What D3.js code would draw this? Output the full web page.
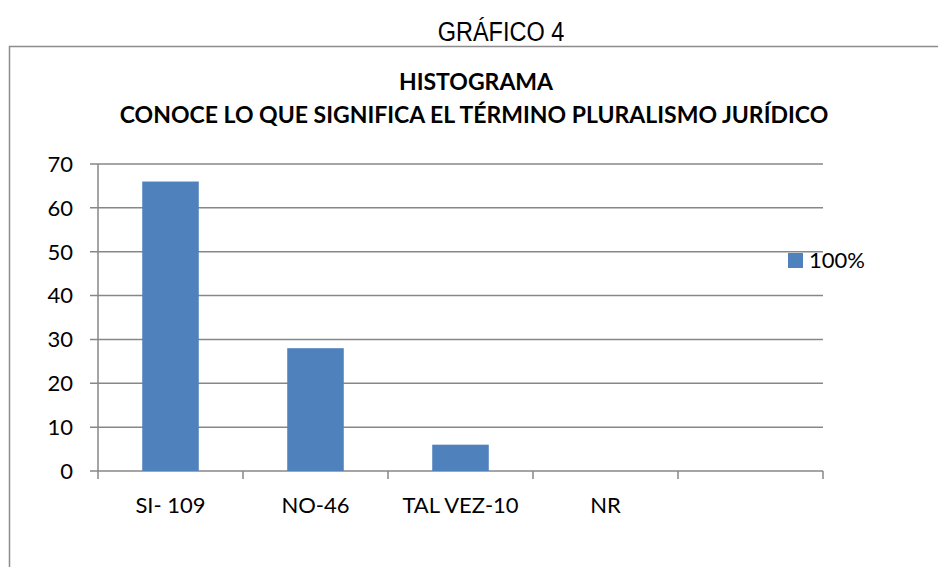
<!DOCTYPE html>
<html>
<head>
<meta charset="utf-8">
<script src="https://cdn.jsdelivr.net/npm/d3@7"></script>
<style>
  body { margin: 0; background: #fff; }
  svg { display: block; }
</style>
</head>
<body>
<div id="chart"></div>
<script>
var categories = ["SI- 109", "NO-46", "TAL VEZ-10", "NR", ""];
var values = [66, 28, 6, 0, null];
var yTicks = [0, 10, 20, 30, 40, 50, 60, 70];
var seriesName = "100%";

var W = 938, H = 567;
var margin = { top: 164, right: 115, bottom: 96, left: 98 },
    width = W - margin.left - margin.right,
    height = H - margin.top - margin.bottom;

var font = "Lato, 'Open Sans', sans-serif";

var svg = d3.select("#chart").append("svg")
    .attr("width", W)
    .attr("height", H);

svg.append("rect")
    .attr("width", W).attr("height", H)
    .attr("fill", "#fff");

// page title (narrow sans)
svg.append("g")
    .attr("transform", "translate(501,41) scale(0.84,1)")
    .append("text")
    .attr("text-anchor", "middle")
    .style("font-family", "'Liberation Sans', Arial, sans-serif")
    .style("font-size", "28px")
    .style("fill", "#000")
    .text("GRÁFICO 4");

// chart frame
svg.append("path")
    .attr("d", "M9.5," + H + " V46.5 H" + W)
    .attr("fill", "none")
    .attr("stroke", "#8c8c8c")
    .attr("stroke-width", 1.5);

// chart title
svg.append("text")
    .attr("x", 476)
    .attr("y", 90)
    .attr("text-anchor", "middle")
    .style("font-family", font)
    .style("font-weight", "bold")
    .style("font-size", "23px")
    .style("fill", "#000")
    .text("HISTOGRAMA");

svg.append("text")
    .attr("x", 474)
    .attr("y", 123)
    .attr("text-anchor", "middle")
    .style("font-family", font)
    .style("font-weight", "bold")
    .style("font-size", "23px")
    .style("fill", "#000")
    .text("CONOCE LO QUE SIGNIFICA EL TÉRMINO PLURALISMO JURÍDICO");

var g = svg.append("g")
    .attr("transform", "translate(" + margin.left + "," + margin.top + ")");

var x = d3.scaleBand()
    .domain(d3.range(categories.length))
    .range([0, width])
    .paddingInner(0.61)
    .paddingOuter(0.305);

var xTick = d3.scaleLinear()
    .domain([0, categories.length])
    .range([0, width]);

var y = d3.scaleLinear()
    .domain([0, 70])
    .range([height, 0]);

// gridlines
g.selectAll(".grid")
    .data(yTicks)
    .enter()
    .append("line")
    .attr("class", "grid")
    .attr("x1", -8)
    .attr("x2", width)
    .attr("y1", function(d) { return y(d); })
    .attr("y2", function(d) { return y(d); })
    .attr("stroke", "#878787")
    .attr("stroke-width", 1.5);

// y axis labels
g.selectAll(".ylab")
    .data(yTicks)
    .enter()
    .append("text")
    .attr("class", "ylab")
    .attr("x", -25)
    .attr("y", function(d) { return y(d); })
    .attr("dy", "0.36em")
    .attr("text-anchor", "end")
    .style("font-family", font)
    .style("font-size", "22px")
    .style("fill", "#000")
    .text(function(d) { return d; });

// y axis line
g.append("line")
    .attr("x1", 0).attr("x2", 0)
    .attr("y1", y(70)).attr("y2", height + 8)
    .attr("stroke", "#878787")
    .attr("stroke-width", 1.5);

// x ticks
g.selectAll(".xtick")
    .data(d3.range(1, categories.length + 1))
    .enter()
    .append("line")
    .attr("class", "xtick")
    .attr("x1", function(d) { return xTick(d); })
    .attr("x2", function(d) { return xTick(d); })
    .attr("y1", height)
    .attr("y2", height + 8)
    .attr("stroke", "#878787")
    .attr("stroke-width", 1.5);

// bars
g.selectAll(".bar")
    .data(values)
    .enter()
    .filter(function(d) { return d; })
    .append("rect")
    .attr("class", "bar")
    .attr("x", function(d, i) { return x(i); })
    .attr("y", function(d) { return y(d); })
    .attr("width", x.bandwidth())
    .attr("height", function(d) { return height - y(d); })
    .attr("fill", "#4f81bd");

// x labels
g.selectAll(".xlab")
    .data(categories)
    .enter()
    .append("text")
    .attr("class", "xlab")
    .attr("x", function(d, i) { return x(i) + x.bandwidth() / 2; })
    .attr("y", height + 42)
    .attr("text-anchor", "middle")
    .style("font-family", font)
    .style("font-size", "22px")
    .style("fill", "#000")
    .text(function(d) { return d; });

// legend
svg.append("rect")
    .attr("x", 788)
    .attr("y", 253)
    .attr("width", 15)
    .attr("height", 15)
    .attr("fill", "#4f81bd");

svg.append("text")
    .attr("x", 809)
    .attr("y", 260)
    .attr("dy", "0.36em")
    .style("font-family", font)
    .style("font-size", "22px")
    .style("fill", "#000")
    .text(seriesName);
</script>
</body>
</html>
